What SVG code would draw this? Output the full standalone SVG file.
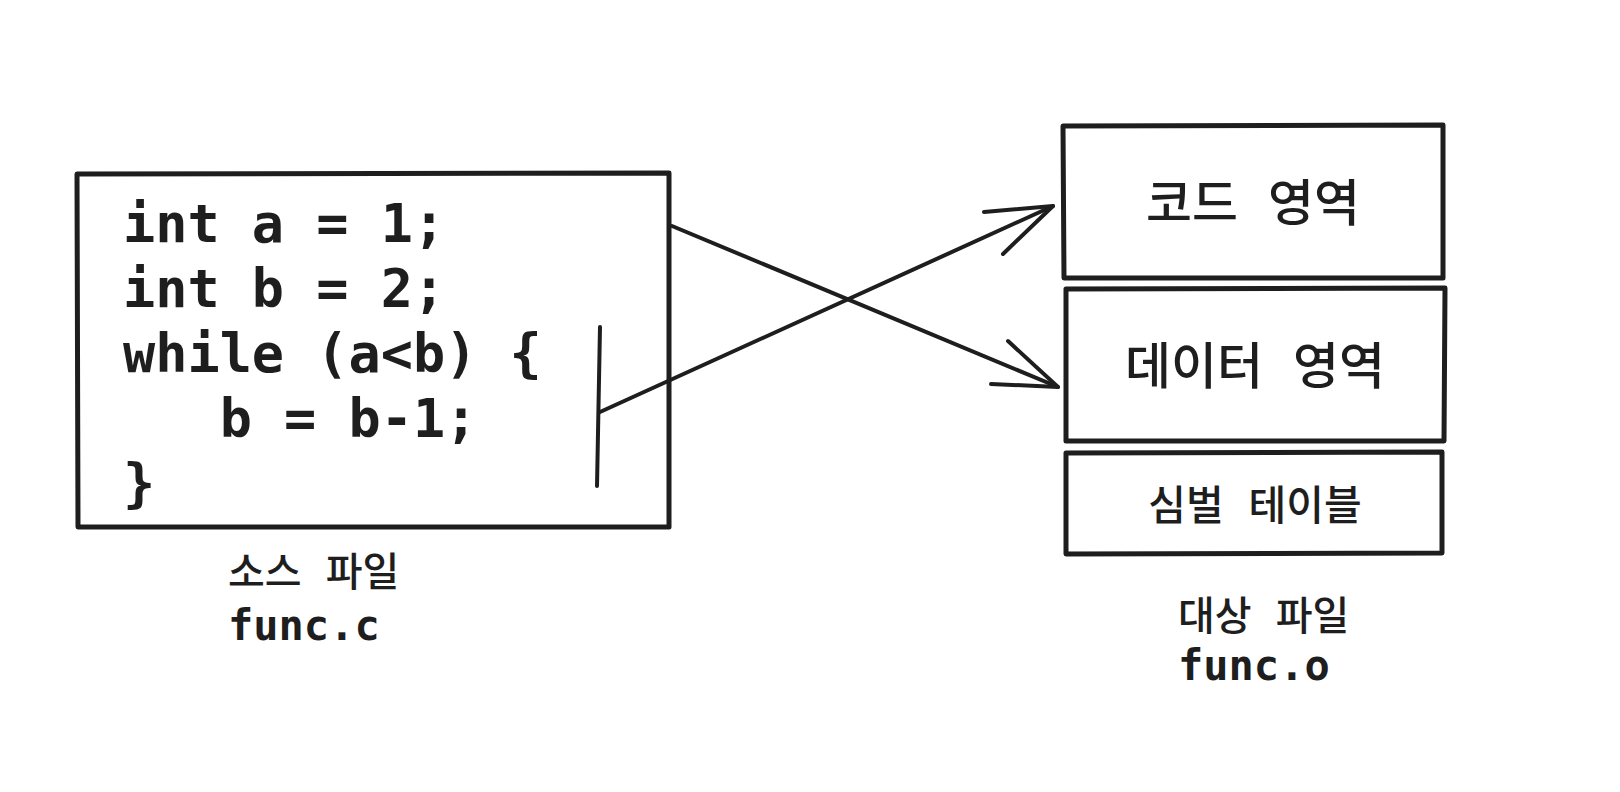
<svg xmlns="http://www.w3.org/2000/svg" width="1620" height="792" viewBox="0 0 1620 792">
<style>
.box{fill:none;stroke:#1e1e1e;stroke-width:5;stroke-linejoin:round;stroke-linecap:round}
.ln{fill:none;stroke:#1e1e1e;stroke-width:4;stroke-linecap:round;stroke-linejoin:round}
.code{font-family:"DejaVu Sans Mono","Noto Sans CJK KR",monospace;fill:#1e1e1e;font-weight:bold}
.kr{font-family:"DejaVu Sans Mono","Noto Sans CJK KR",monospace;fill:#1e1e1e;font-weight:500}
</style>
<rect width="1620" height="792" fill="#ffffff"/>
<g id="source">
<path class="box" d="M77,174 L669,173 L669,527 L78,527 Z"/>
<text class="code" font-size="53.5" xml:space="preserve"><tspan x="123" y="242">int a = 1;</tspan><tspan x="123" y="307">int b = 2;</tspan><tspan x="123" y="372">while (a&lt;b) {</tspan><tspan x="123" y="437">   b = b-1;</tspan><tspan x="123" y="502">}</tspan></text>
</g>
<g id="source-label">
<text class="kr" font-size="40" x="228" y="586">소스 파일</text>
<text class="code" font-size="42" x="228" y="640">func.c</text>
</g>
<g id="code-area">
<path class="box" d="M1063,126 L1443,125 L1443,278 L1064,278 Z"/>
<text class="kr" font-size="50" x="1253" y="221" text-anchor="middle">코드 영역</text>
</g>
<g id="data-area">
<path class="box" d="M1066,289 L1445,288 L1444,441 L1066,441 Z"/>
<text class="kr" font-size="50" x="1255" y="384" text-anchor="middle">데이터 영역</text>
</g>
<g id="symbol-table">
<path class="box" d="M1066,453 L1442,452 L1442,553 L1066,554 Z"/>
<text class="kr" font-size="41" x="1255" y="520" text-anchor="middle">심벌 테이블</text>
</g>
<g id="target-label">
<text class="kr" font-size="40" x="1178" y="630">대상 파일</text>
<text class="code" font-size="42" x="1178" y="680">func.o</text>
</g>
<g id="connectors">
<path class="ln" d="M600,327 L597,486"/>
<path class="ln" d="M672,226 L1058,387"/>
<path class="ln" d="M1008,341 L1058,387 L991,384"/>
<path class="ln" d="M600,412 L1053,206"/>
<path class="ln" d="M984,212 L1053,206 L1003,254"/>
</g>
</svg>
